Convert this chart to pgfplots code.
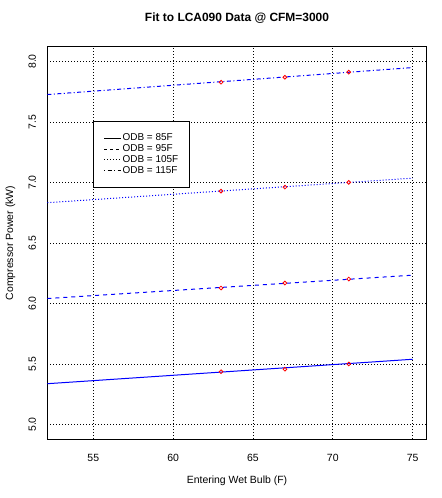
\documentclass[border=0pt]{standalone}
\usepackage{pgfplots}
\pgfplotsset{compat=1.18}
\usepackage{fontspec}
\setmainfont{Liberation Sans}
\begin{document}
\begin{tikzpicture}
\path[use as bounding box] (-47.3bp,-59bp) rectangle (394.7bp,439bp);
\begin{axis}[
  scale only axis, width=379.4bp, height=392bp,
  at={(0,0)}, anchor=south west,
  xmin=52.12, xmax=75.88, ymin=4.88, ymax=8.12,
  xtick={55,60,65,70,75}, ytick={5,5.5,6,6.5,7,7.5,8},
  major tick length=0pt,
  grid=major,
  major grid style={black, line width=0.8bp, dash pattern=on 1bp off 2bp},
  axis line style={black, line width=1bp},
  /pgf/number format/assume math mode=true,
  tick label style={font=\fontsize{10.5}{12}\selectfont},
  xticklabel style={anchor=north, inner xsep=0pt, inner ysep=15bp},
  yticklabel style={/pgf/number format/fixed, /pgf/number format/fixed zerofill, /pgf/number format/precision=1, rotate=90, anchor=south, inner xsep=0pt, inner ysep=11bp},
  title={Fit to LCA090 Data @ CFM=3000},
  title style={font=\bfseries\fontsize{12}{14}\selectfont, at={(axis description cs:0.5,1.058)}, anchor=center},
  xlabel={Entering Wet Bulb (F)},
  xlabel style={font=\fontsize{10.5}{12}\selectfont, at={(axis description cs:0.5,-0.107)}, anchor=center},
  ylabel={Compressor Power (kW)},
  ylabel style={font=\fontsize{10.5}{12}\selectfont, at={(axis description cs:-0.0975,0.5)}, anchor=center},
  legend style={at={(axis description cs:0.121,0.811)}, anchor=north west, draw=black, line width=0.8bp,
    font=\fontsize{10}{10}\selectfont, inner xsep=10bp, inner ysep=11.5bp, row sep=0pt,
    nodes={inner sep=1.2bp, text height=6.8bp, text depth=1.5bp}},
  legend cell align=left,
  legend image code/.code={\draw[#1] (0bp,0bp) -- (17bp,0bp);},
]
% fitted lines
\addplot[blue, line width=1bp, forget plot] coordinates {(52.12,5.337) (75,5.539)};
\addplot[blue, line width=1bp, dash pattern=on 4bp off 4bp, forget plot] coordinates {(52.12,6.041) (75,6.234)};
\addplot[blue, line width=1bp, dash pattern=on 1bp off 2bp, forget plot] coordinates {(52.12,6.833) (75,7.036)};
\addplot[blue, line width=1bp, dash pattern=on 4bp off 2.5bp on 1bp off 2.5bp, forget plot] coordinates {(52.12,7.727) (75,7.950)};
% data points
\addplot[only marks, mark=o, red, mark size=1.9bp, line width=0.8bp, forget plot] coordinates {
  (63,5.436) (67,5.457) (71,5.500)
  (63,6.128) (67,6.169) (71,6.202)
  (63,6.929) (67,6.962) (71,7.001)
  (63,7.829) (67,7.870) (71,7.912)};
% legend
\addlegendimage{black, line width=0.8bp}
\addlegendentry{ODB = 85F}
\addlegendimage{black, line width=0.8bp, dash pattern=on 3bp off 3bp}
\addlegendentry{ODB = 95F}
\addlegendimage{black, line width=0.8bp, dash pattern=on 1bp off 2bp}
\addlegendentry{ODB = 105F}
\addlegendimage{black, line width=0.8bp, dash pattern=on 1bp off 2.5bp on 4bp off 2.5bp}
\addlegendentry{ODB = 115F}
\end{axis}
\end{tikzpicture}
\end{document}
